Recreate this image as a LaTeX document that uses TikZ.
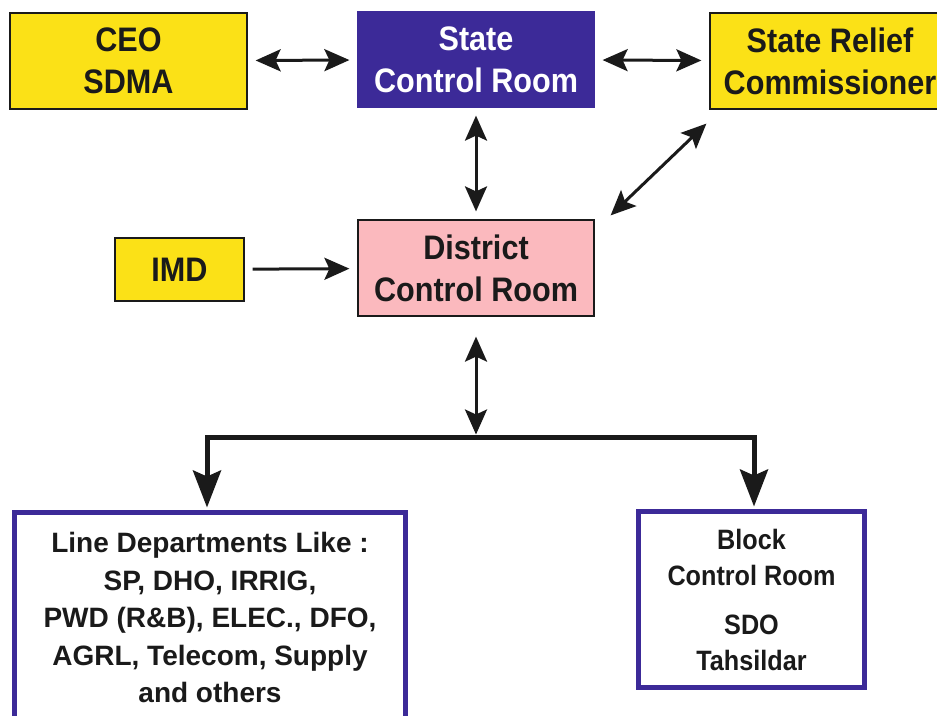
\documentclass[tikz,border=0pt]{standalone}
\usepackage{fontspec}
\setmainfont{Liberation Sans}
\newfontfamily\narrowsans{Liberation Sans}[FakeStretch=0.9]
\usetikzlibrary{arrows.meta}
\definecolor{sdmayellow}{HTML}{FBE117}
\definecolor{roomblue}{HTML}{3C2A98}
\definecolor{roompink}{HTML}{FBB9BE}
\definecolor{inkblack}{HTML}{1A1A1A}
\begin{document}
\begin{tikzpicture}[x=1pt,y=-1pt,
  box/.style={draw=inkblack,line width=1.2pt,inner sep=0pt,align=center,text=inkblack,
    font=\narrowsans\bfseries\fontsize{34}{42}\selectfont},
  deptbox/.style={draw=roomblue,line width=5pt,fill=white,inner sep=0pt,align=center,text=inkblack},
  link/.style={draw=inkblack,line width=3pt,shorten >=8pt,shorten <=8pt,
    {Stealth[length=25pt,width=22pt,inset=5pt]}-{Stealth[length=25pt,width=22pt,inset=5pt]}},
  busline/.style={draw=inkblack,line width=5pt,
    {Stealth[length=37pt,width=28pt,inset=6pt]}-{Stealth[length=37pt,width=28pt,inset=6pt]}}]
\useasboundingbox (0,0) rectangle (937,715);
%top row
\node[box,fill=sdmayellow,minimum width=237pt,minimum height=96pt] (ceo) at (128.5,61) {CEO\\SDMA};
\node[box,fill=roomblue,draw=roomblue,text=white,minimum width=236pt,minimum height=95pt] (scr) at (476,59.5) {State\\Control Room};
\node[box,fill=sdmayellow,minimum width=240pt,minimum height=96pt] (src) at (830,61) {State Relief\\Commissioner};
%district level
\node[box,fill=sdmayellow,minimum width=129pt,minimum height=63pt] (imd) at (179.5,269.5) {IMD};
\node[box,fill=roompink,minimum width=236pt,minimum height=96pt] (dcr) at (476,268) {District\\Control Room};
%bottom row
\node[deptbox,minimum width=391pt,minimum height=210pt,font=\bfseries\fontsize{28}{37.5}\selectfont] (lin) at (210,617.5)
  {Line Departments Like :\\SP, DHO, IRRIG,\\PWD (R\&B), ELEC., DFO,\\AGRL, Telecom, Supply\\and others};
\node[deptbox,minimum width=226pt,minimum height=176pt,font=\narrowsans\bfseries\fontsize{28}{36}\selectfont] (blk) at (751.5,599.5)
  {Block\\Control Room\\[13pt]SDO\\Tahsildar};
\coordinate (bus) at (476,437);
%links
\draw[link] (ceo) -- (scr);
\draw[link] (scr) -- (src);
\draw[link] (scr) -- (dcr);
\draw[link,shorten >=0pt,shorten <=0pt] ([xshift=16pt,yshift=4pt]dcr.north east) -- ([xshift=-3pt,yshift=-14pt]src.south west);
\draw[link,-{Stealth[length=25pt,width=22pt,inset=5pt]}] (imd) -- (dcr);
\draw[link,shorten <=20pt,shorten >=2.5pt] (dcr.south) -- (bus);
\draw[busline,shorten <=2.5pt,shorten >=2.5pt] ([xshift=-3pt]lin.north) |- (bus) -| ([xshift=2.5pt]blk.north);
\end{tikzpicture}
\end{document}
